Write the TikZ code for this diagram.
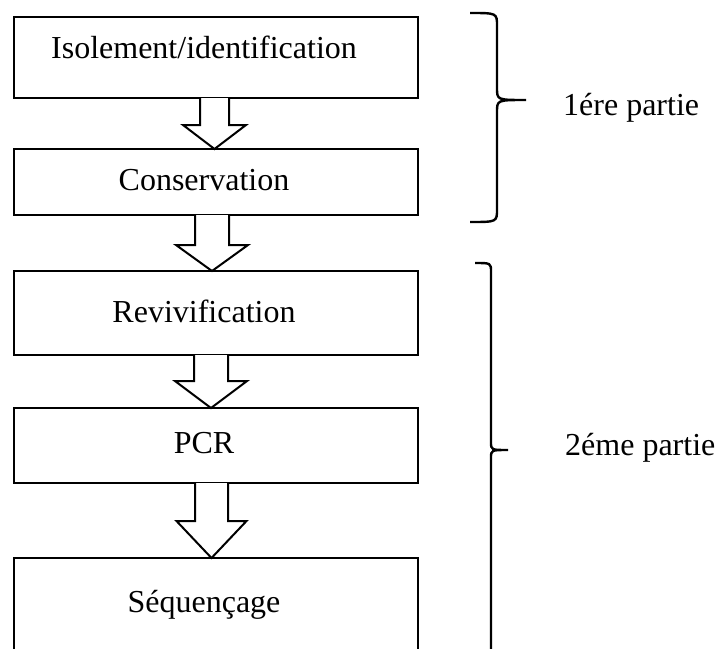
\documentclass[tikz,border=0pt]{standalone}
\usepackage{fontspec}
\setmainfont{Liberation Serif}
\usetikzlibrary{calc}

\tikzset{
  stepbox/.style={draw, line width=2pt, rectangle, outer sep=0pt, minimum width=404pt, inner sep=0pt},
  steptext/.style={anchor=base, inner sep=0pt, font=\fontsize{32}{38}\selectfont},
  parttext/.style={anchor=base west, inner sep=0pt, font=\fontsize{32}{38}\selectfont},
  blockarrow/.style={draw, line width=2pt, fill=white, line join=miter},
  bracepath/.style={draw, line width=2.4pt, line cap=butt}
}

% hollow block arrow from box #1 to box #2, centred at x=#3,
% shaft half width #4, head half width #5, head length #6
\newcommand\flowarrow[6]{%
  \path (#3,0 |- #1.south) coordinate (#1-out)
        (#3,0 |- #2.north) coordinate (#2-in);
  \draw[blockarrow]
    ([xshift=-#4pt]#1-out)
    -- ([xshift=-#4pt,yshift=#6pt]#2-in)
    -- ([xshift=-#5pt,yshift=#6pt]#2-in)
    -- (#2-in)
    -- ([xshift=#5pt,yshift=#6pt]#2-in)
    -- ([xshift=#4pt,yshift=#6pt]#2-in)
    -- ([xshift=#4pt]#1-out);
}

\begin{document}
\begin{tikzpicture}[x=1pt, y=-1pt]
  \clip (0,0) rectangle (717,648);
  \fill[white] (0,0) rectangle (717,648);

  % process boxes
  \node[stepbox, minimum height=81pt]  (b1) at (216,57.5) {};
  \node[stepbox, minimum height=66pt]  (b2) at (216,182) {};
  \node[stepbox, minimum height=84pt]  (b3) at (216,313) {};
  \node[stepbox, minimum height=75pt]  (b4) at (216,445.5) {};
  \node[stepbox, minimum height=104pt] (b5) at (216,610) {};

  % box captions
  \node[steptext] (t1) at (204,58)  {Isolement/identification};
  \node[steptext] (t2) at (204,190) {Conservation};
  \node[steptext] (t3) at (204,322) {Revivification};
  \node[steptext] (t4) at (204,453) {PCR};
  \node[steptext] (t5) at (204,612) {Séquençage};

  % hollow arrows between the steps
  \flowarrow{b1}{b2}{214.5}{14.5}{31.5}{24}
  \flowarrow{b2}{b3}{212}{17}{36}{26}
  \flowarrow{b3}{b4}{211}{17}{36}{27}
  \flowarrow{b4}{b5}{211.5}{16.5}{35}{37}

  % brace grouping the first part
  \draw[bracepath]
    (470,13) .. controls (497,13) .. (497,26)
    -- (497,88) .. controls (497,100) .. (526,100)
    (526,100) .. controls (497,100) .. (497,112)
    -- (497,209) .. controls (497,222) .. (470,222);
  \node[parttext] (p1) at (563,115) {1ére partie};

  % brace grouping the second part
  \draw[bracepath]
    (475,263) .. controls (491,263) .. (491,272)
    -- (491,442) .. controls (491,450) .. (508,450)
    (508,450) .. controls (491,450) .. (491,458)
    -- (491,700);
  \node[parttext] (p2) at (565,455) {2éme partie};
\end{tikzpicture}
\end{document}
